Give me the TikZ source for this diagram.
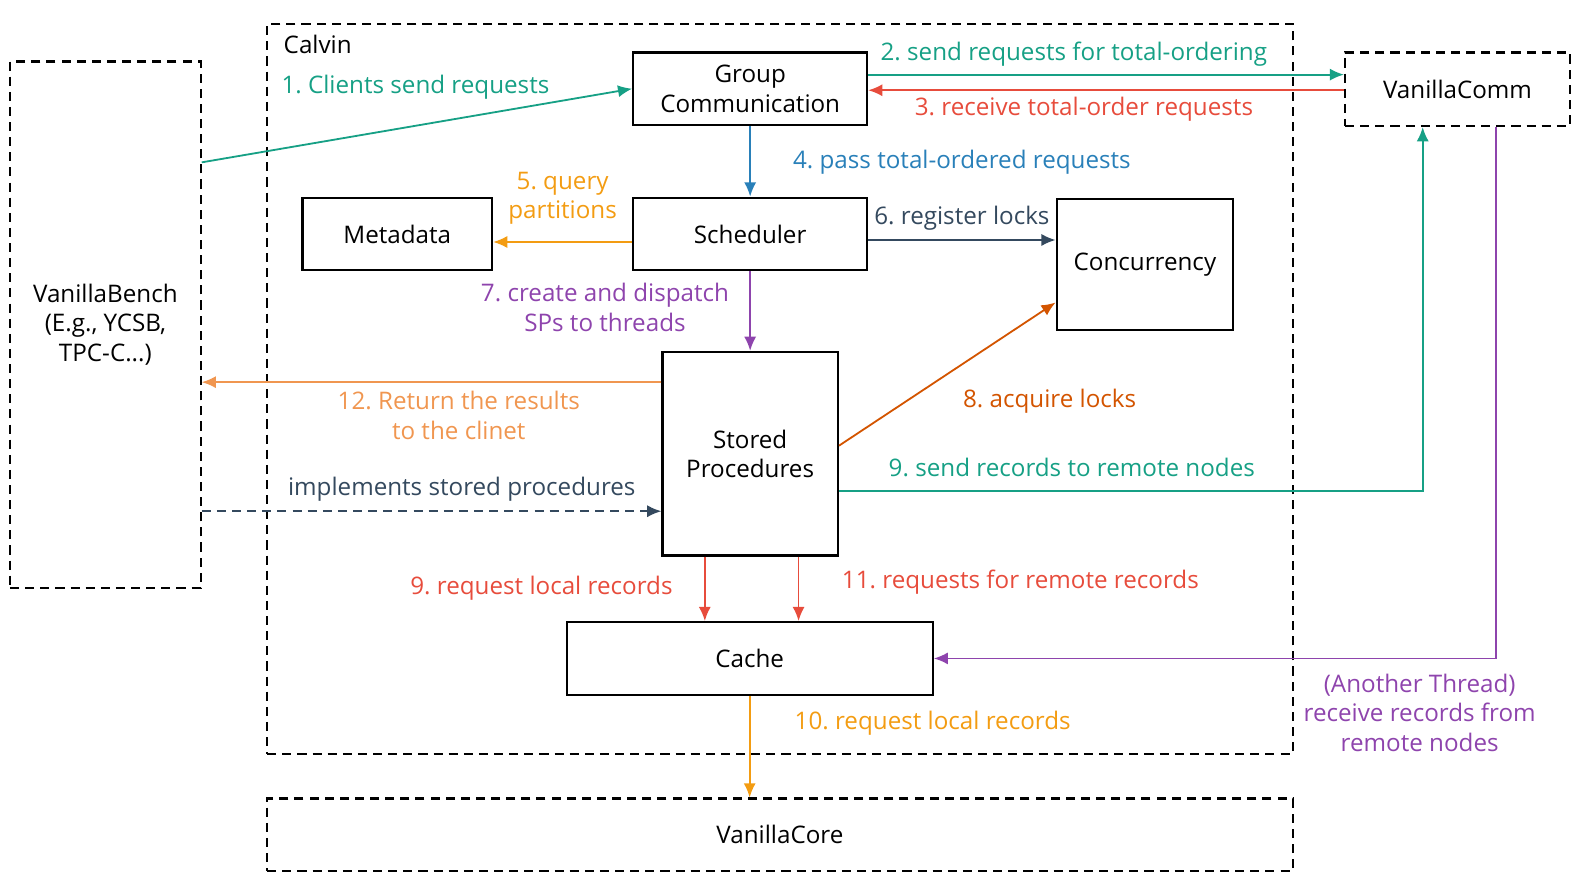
\documentclass[tikz,border=0pt]{standalone}
\usepackage{fontspec}
\setmainfont{Open Sans}
\usetikzlibrary{arrows.meta}
\frenchspacing

\definecolor{cteal}{RGB}{22,160,133}
\definecolor{cred}{RGB}{231,76,60}
\definecolor{cblue}{RGB}{41,128,185}
\definecolor{corange}{RGB}{243,156,18}
\definecolor{cslate}{RGB}{52,73,94}
\definecolor{cpurple}{RGB}{142,68,173}
\definecolor{cdkorange}{RGB}{211,84,0}
\definecolor{cltorange}{RGB}{240,150,80}

\tikzset{
  blk/.style={draw, line width=1.1pt, align=center, inner sep=0pt},
  dblk/.style={blk, dash pattern=on 4.5pt off 3pt},
  lbl/.style={align=center, inner sep=0pt},
  conn/.style={line width=0.9pt, -{Latex[length=7pt,width=6pt]}},
}

\begin{document}
\begin{tikzpicture}[x=0.5pt,y=-0.5pt,font=\fontsize{12pt}{14.5pt}\selectfont]
  \useasboundingbox (0,0) rectangle (1568,874);

  % outer dashed boxes
  \node[dblk, minimum width=508.5pt, minimum height=362pt] (calvin) at (773.5,386) {};
  \node[lbl, anchor=west] (calvintxt) at (281,44) {Calvin};
  \node[dblk, minimum width=94.5pt, minimum height=261pt] (bench) at (104.5,322)
    {VanillaBench\\(E.g., YCSB,\\TPC-C...)};
  \node[dblk, minimum width=111.5pt, minimum height=36.5pt] (comm) at (1445.5,88.5) {VanillaComm};
  \node[dblk, minimum width=508.5pt, minimum height=36pt] (core) at (773.5,828) {VanillaCore};

  % inner blocks
  \node[blk, minimum width=116pt, minimum height=36pt] (gc) at (744,88) {Group\\Communication};
  \node[blk, minimum width=94pt, minimum height=36pt] (meta) at (394,232) {Metadata};
  \node[blk, minimum width=116pt, minimum height=36pt] (sched) at (744,232) {Scheduler};
  \node[blk, minimum width=87.5pt, minimum height=65pt] (conc) at (1135.5,262) {Concurrency};
  \node[blk, minimum width=87pt, minimum height=101pt] (sp) at (744,450) {Stored\\Procedures};
  \node[blk, minimum width=181.5pt, minimum height=36pt] (cache) at (743.5,653) {Cache};

  % connectors
  \draw[conn, cteal] ([yshift=80.5pt]bench.east) -- (gc.west);
  \draw[conn, cteal] ([yshift=7pt]gc.east) -- ([yshift=7pt]gc.east -| comm.west);
  \draw[conn, cred] ([yshift=-0.5pt]comm.west) -- ([yshift=-0.5pt]comm.west -| gc.east);
  \draw[conn, cblue] (gc.south) -- (sched.north);
  \draw[conn, corange] ([yshift=-4pt]sched.west) -- ([yshift=-4pt]sched.west -| meta.east);
  \draw[conn, cslate] ([yshift=-3pt]sched.east) -- ([yshift=-3pt]sched.east -| conc.west);
  \draw[conn, cpurple] (sched.south) -- (sp.north);
  \draw[conn, cdkorange] ([yshift=4pt]sp.east) -- ([yshift=-19pt]conc.west);
  \draw[conn, cteal] ([yshift=-18.5pt]sp.east) -| ([xshift=-17.25pt]comm.south);
  \draw[conn, cred] ([xshift=-22.5pt]sp.south) -- ([xshift=-22.5pt]sp.south |- cache.north);
  \draw[conn, cred] ([xshift=24pt]sp.south) -- ([xshift=24pt]sp.south |- cache.north);
  \draw[conn, corange] (cache.south) -- (cache.south |- core.north);
  \draw[conn, cpurple] ([xshift=19.25pt]comm.south) |- (cache.east);
  \draw[conn, cltorange] ([yshift=35.5pt]sp.west) -- ([yshift=35.5pt]sp.west -| bench.east);
  \draw[conn, cslate, dash pattern=on 4.5pt off 3pt] ([yshift=-28.5pt]sp.west -| bench.east) -- ([yshift=-28.5pt]sp.west);

  % labels
  \node[lbl, text=cteal] (l1) at (412,86) {1. Clients send requests};
  \node[lbl, text=cteal] (l2) at (1065,54) {2. send requests for total-ordering};
  \node[lbl, text=cred] (l3) at (1075,108) {3. receive total-order requests};
  \node[lbl, text=cblue] (l4) at (954,161) {4. pass total-ordered requests};
  \node[lbl, text=corange] (l5) at (558,197) {5. query\\partitions};
  \node[lbl, text=cslate] (l6) at (954,216) {6. register locks};
  \node[lbl, text=cpurple] (l7) at (600,305) {7. create and dispatch\\SPs to threads};
  \node[lbl, text=cdkorange] (l8) at (1041,398) {8. acquire locks};
  \node[lbl, text=cteal] (l9) at (1063,464) {9. send records to remote nodes};
  \node[lbl, text=cred] (l9b) at (537,583) {9. request local records};
  \node[lbl, text=cred] (l11) at (1012,577) {11. requests for remote records};
  \node[lbl, text=corange] (l10) at (925,717) {10. request local records};
  \node[lbl, text=cltorange] (l12) at (455,412) {12. Return the results\\to the clinet};
  \node[lbl, text=cslate] (limpl) at (458,485) {implements stored procedures};
  \node[lbl, text=cpurple] (lthread) at (1408,707) {(Another Thread)\\receive records from\\remote nodes};
\end{tikzpicture}
\end{document}
